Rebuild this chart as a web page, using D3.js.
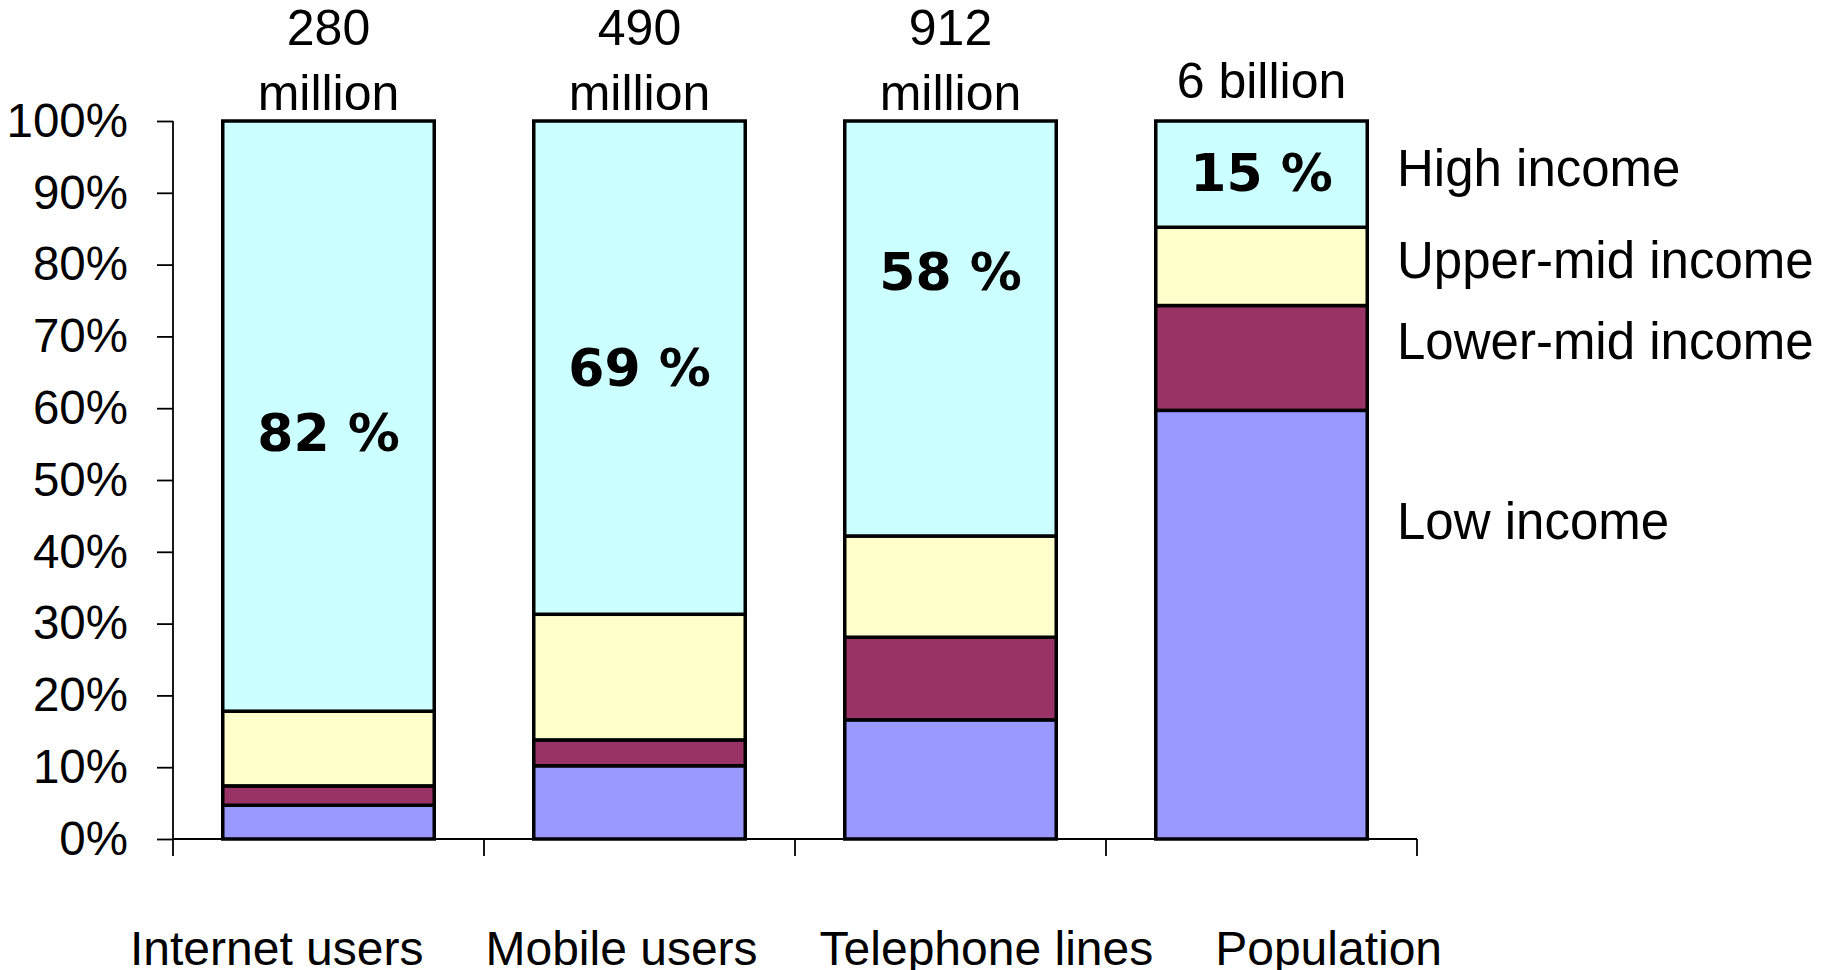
<!DOCTYPE html>
<html>
<head>
<meta charset="utf-8">
<script src="https://cdn.jsdelivr.net/npm/d3@7"></script>
<style>
  html, body { margin: 0; padding: 0; background: #fff; }
  svg { display: block; }
  text { font-family: "Liberation Sans", Arial, sans-serif; fill: #000; }
</style>
</head>
<body>
<svg id="chart" width="1821" height="970"></svg>
<script>
// ---- data ----
const categories = ["Internet users", "Mobile users", "Telephone lines", "Population"];
const totalLine1 = ["280", "490", "912", "6 billion"];
const totalLine2 = ["million", "million", "million", ""];
const incomeGroups = ["Low income", "Lower-mid income", "Upper-mid income", "High income"];
const lowIncome      = [4.7, 10.2, 16.6, 59.7];
const lowerMidIncome = [2.7, 3.6, 11.5, 14.6];
const upperMidIncome = [10.4, 17.5, 14.1, 10.9];
const highIncome     = [82.2, 68.7, 57.8, 14.8];
const yTicks = [0, 10, 20, 30, 40, 50, 60, 70, 80, 90, 100];
// label anchors (in % units on the y scale)
const highLabelAt = [54.1, 63.1, 76.5, 90.2];
const legendAt = [41.8, 66.8, 78.2, 91.0];

const colors = ["#9999FF", "#993366", "#FFFFCC", "#CCFFFF"];

// ---- layout ----
const svg = d3.select("#chart");
const x0 = 173, x1 = 1417, yTop = 121, yBot = 839;

const x = d3.scaleBand().domain(categories).range([x0, x1]).padding(0);
const barW = x.bandwidth() * 0.68;
const y = d3.scaleLinear().domain([0, 100]).range([yBot, yTop]);

const table = categories.map((c, i) => ({
  cat: c,
  "Low income": lowIncome[i],
  "Lower-mid income": lowerMidIncome[i],
  "Upper-mid income": upperMidIncome[i],
  "High income": highIncome[i]
}));
const stacked = d3.stack().keys(incomeGroups)(table);

// bars
const g = svg.append("g");
stacked.forEach((layer, li) => {
  g.selectAll(null).data(layer).enter().append("rect")
    .attr("x", d => x(d.data.cat) + (x.bandwidth() - barW) / 2)
    .attr("y", d => y(d[1]))
    .attr("width", barW)
    .attr("height", d => y(d[0]) - y(d[1]))
    .attr("fill", colors[li])
    .attr("stroke", "#000")
    .attr("stroke-width", 3.5)
    .attr("stroke-linejoin", "miter");
});

// y axis
const yAxis = d3.axisLeft(y).tickValues(yTicks).tickSize(16).tickPadding(29)
  .tickFormat(d => d + "%");
const ya = svg.append("g").attr("transform", `translate(${x0},0)`).call(yAxis);
ya.select(".domain").remove();
ya.selectAll(".tick line").attr("stroke", "#000").attr("stroke-width", 1.8);
ya.selectAll(".tick text").attr("font-size", 47.5)
  .attr("font-family", "Liberation Sans, Arial, sans-serif").attr("fill", "#000");
svg.append("line").attr("x1", x0).attr("x2", x0).attr("y1", y(100)).attr("y2", yBot + 17)
  .attr("stroke", "#000").attr("stroke-width", 1.8);

// x axis line + boundary ticks
svg.append("line").attr("x1", x0).attr("x2", x1).attr("y1", yBot).attr("y2", yBot)
  .attr("stroke", "#000").attr("stroke-width", 1.8);
const bounds = categories.map(c => x(c) + x.bandwidth());
svg.selectAll(null).data(bounds).enter().append("line")
  .attr("x1", d => d).attr("x2", d => d).attr("y1", yBot).attr("y2", yBot + 17)
  .attr("stroke", "#000").attr("stroke-width", 1.8);

// redraw bar bottoms over axis
// category labels as one text line
const catText = svg.append("text").attr("x", 130).attr("y", 965).attr("font-size", 48);
catText.selectAll("tspan").data(categories).enter().append("tspan")
  .attr("dx", (d, i) => i === 0 ? 0 : 62)
  .text(d => d);

// totals above bars
categories.forEach((c, i) => {
  const cx = x(c) + x.bandwidth() / 2;
  if (totalLine2[i]) {
    svg.append("text").attr("x", cx).attr("y", 45).attr("text-anchor", "middle")
      .attr("font-size", 50).text(totalLine1[i]);
    svg.append("text").attr("x", cx).attr("y", 110).attr("text-anchor", "middle")
      .attr("font-size", 50).text(totalLine2[i]);
  } else {
    svg.append("text").attr("x", cx).attr("y", 98).attr("text-anchor", "middle")
      .attr("font-size", 50).text(totalLine1[i]);
  }
});

// high-income share labels
svg.selectAll(null).data(categories).enter().append("text")
  .attr("x", d => x(d) + x.bandwidth() / 2)
  .attr("y", (d, i) => y(highLabelAt[i]))
  .attr("text-anchor", "middle")
  .attr("font-family", "DejaVu Sans, Verdana, sans-serif")
  .attr("font-weight", "bold")
  .attr("font-size", 52)
  .style("font-family", "'DejaVu Sans', Verdana, sans-serif")
  .text((d, i) => Math.round(highIncome[i]) + " %");

// legend labels on the right
svg.selectAll(null).data(incomeGroups).enter().append("text")
  .attr("x", 1397)
  .attr("y", (d, i) => y(legendAt[i]))
  .attr("font-size", 51)
  .text(d => d);
</script>
</body>
</html>
